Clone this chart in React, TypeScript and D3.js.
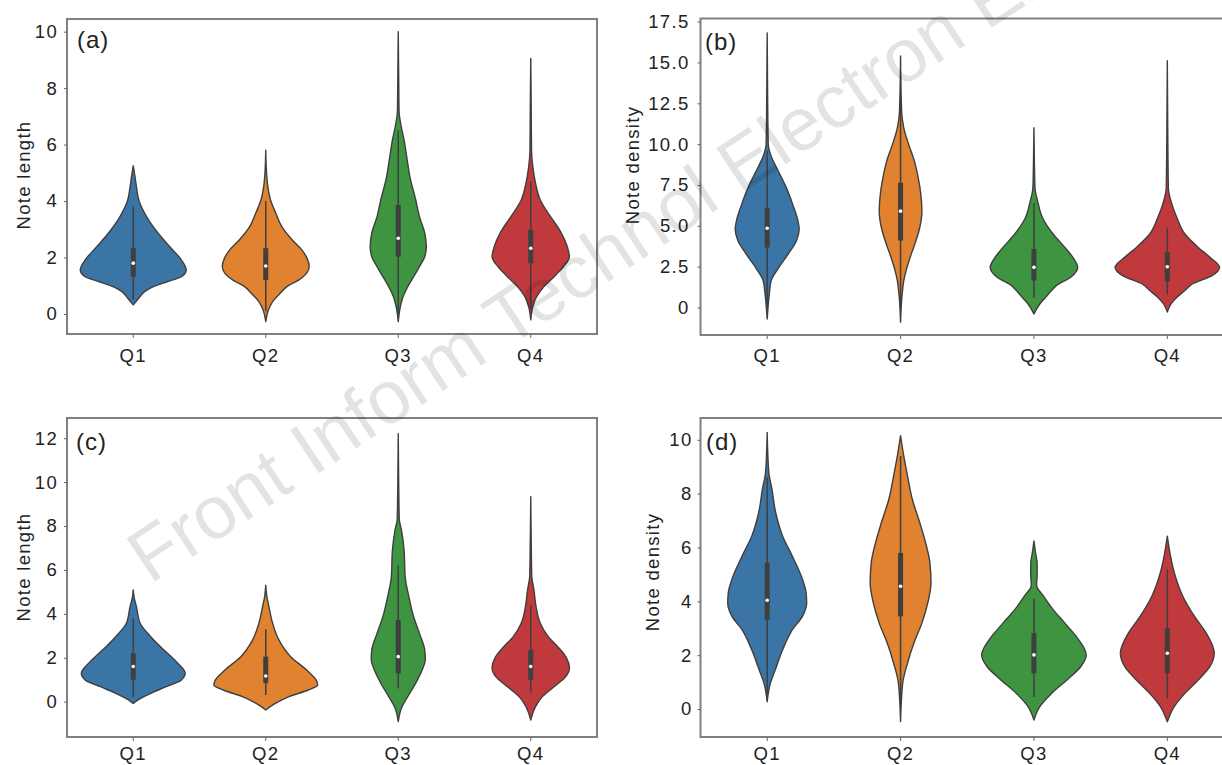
import React, { useEffect, useRef } from 'react';
import * as d3 from 'd3';

// Categories shared by every panel
const categories = ['Q1', 'Q2', 'Q3', 'Q4'];
const violinColors = ['#3a75a5', '#e0822f', '#3e9440', '#c0393c'];

// Violin outlines: [value, relative half width], bottom to top
const profilesA = [
  [[0.32, 0], [0.55, 0.1], [0.8, 0.22], [0.95, 0.36], [1.15, 0.65], [1.32, 0.91], [1.56, 1.0], [1.91, 0.91], [2.38, 0.69], [2.86, 0.47], [3.45, 0.25], [4.0, 0.11], [4.5, 0.06], [4.9, 0.03], [5.25, 0]],
  [[-0.27, 0], [0.14, 0.05], [0.44, 0.13], [0.73, 0.27], [0.97, 0.4], [1.2, 0.62], [1.44, 0.77], [1.68, 0.82], [1.97, 0.78], [2.27, 0.68], [2.62, 0.5], [3.1, 0.3], [3.57, 0.19], [4.04, 0.09], [4.5, 0.04], [5.0, 0.015], [5.8, 0]],
  [[-0.27, 0], [0.26, 0.04], [0.61, 0.09], [0.97, 0.18], [1.32, 0.29], [1.68, 0.4], [2.03, 0.5], [2.38, 0.53], [2.86, 0.5], [3.45, 0.4], [4.04, 0.33], [4.86, 0.22], [5.57, 0.16], [6.16, 0.11], [6.6, 0.06], [7.2, 0.015], [8.5, 0.008], [10.0, 0]],
  [[-0.21, 0], [0.26, 0.04], [0.61, 0.11], [0.97, 0.25], [1.32, 0.44], [1.68, 0.62], [2.03, 0.73], [2.38, 0.69], [2.86, 0.58], [3.27, 0.44], [3.57, 0.33], [4.04, 0.18], [4.63, 0.09], [5.2, 0.04], [5.8, 0.015], [7.5, 0.008], [9.05, 0]],
];
const profilesB = [
  [[-0.7, 0], [0.84, 0.04], [1.65, 0.075], [2.46, 0.22], [3.3, 0.4], [4.1, 0.55], [4.8, 0.6], [5.4, 0.57], [6.3, 0.48], [7.4, 0.35], [8.4, 0.2], [9.3, 0.07], [10.0, 0.02], [13.0, 0.008], [16.8, 0]],
  [[-0.9, 0], [0.83, 0.03], [1.65, 0.06], [2.46, 0.12], [3.27, 0.2], [4.1, 0.29], [4.9, 0.36], [5.9, 0.4], [6.93, 0.38], [7.95, 0.33], [8.96, 0.26], [10.0, 0.15], [11.0, 0.06], [12.0, 0.02], [15.4, 0]],
  [[-0.39, 0], [0.22, 0.11], [0.63, 0.22], [1.04, 0.33], [1.34, 0.42], [1.85, 0.69], [2.46, 0.82], [3.07, 0.73], [3.68, 0.58], [4.5, 0.36], [5.5, 0.16], [6.5, 0.07], [7.3, 0.02], [9.0, 0.008], [11.0, 0]],
  [[-0.28, 0], [0.22, 0.07], [0.63, 0.18], [1.04, 0.33], [1.44, 0.47], [1.95, 0.84], [2.46, 0.98], [3.07, 0.8], [3.68, 0.58], [4.5, 0.33], [5.5, 0.18], [6.5, 0.07], [7.3, 0.02], [11.0, 0.008], [15.1, 0]],
];
const profilesC = [
  [[-0.08, 0], [0.08, 0.09], [0.38, 0.33], [0.68, 0.62], [0.99, 0.91], [1.29, 0.98], [1.75, 0.84], [2.35, 0.58], [2.96, 0.33], [3.57, 0.13], [4.33, 0.06], [4.7, 0.02], [5.09, 0]],
  [[-0.38, 0], [-0.08, 0.18], [0.23, 0.44], [0.53, 0.8], [0.76, 0.98], [0.99, 0.95], [1.44, 0.77], [2.05, 0.47], [2.8, 0.25], [3.57, 0.13], [4.33, 0.06], [4.8, 0.02], [5.3, 0]],
  [[-0.91, 0], [-0.23, 0.07], [0.23, 0.18], [0.84, 0.33], [1.44, 0.45], [1.9, 0.51], [2.35, 0.5], [3.11, 0.4], [3.87, 0.29], [4.78, 0.2], [5.7, 0.13], [6.9, 0.11], [7.82, 0.06], [8.3, 0.02], [10.0, 0.008], [12.2, 0]],
  [[-0.84, 0], [-0.23, 0.09], [0.23, 0.22], [0.68, 0.44], [1.14, 0.66], [1.52, 0.73], [2.05, 0.66], [2.5, 0.51], [2.96, 0.33], [3.57, 0.18], [4.33, 0.1], [5.09, 0.06], [5.7, 0.02], [7.5, 0.008], [9.34, 0]],
];
const profilesD = [
  [[0.27, 0], [0.96, 0.06], [1.45, 0.15], [2.2, 0.29], [2.94, 0.47], [3.44, 0.66], [3.94, 0.74], [4.31, 0.73], [4.93, 0.64], [5.68, 0.47], [6.42, 0.29], [7.29, 0.16], [8.16, 0.09], [8.8, 0.03], [10.27, 0]],
  [[-0.47, 0], [0.96, 0.04], [1.7, 0.13], [2.45, 0.25], [3.19, 0.4], [3.94, 0.51], [4.68, 0.57], [5.43, 0.55], [6.17, 0.47], [6.92, 0.36], [7.79, 0.22], [8.66, 0.13], [9.4, 0.06], [10.15, 0]],
  [[-0.41, 0], [0.09, 0.11], [0.58, 0.33], [1.08, 0.62], [1.58, 0.88], [2.01, 0.98], [2.57, 0.84], [3.19, 0.58], [3.69, 0.36], [4.19, 0.18], [4.6, 0.05], [5.0, 0.06], [5.4, 0.06], [5.8, 0.03], [6.24, 0]],
  [[-0.47, 0], [0.09, 0.13], [0.58, 0.33], [1.08, 0.58], [1.58, 0.8], [2.07, 0.88], [2.82, 0.73], [3.44, 0.51], [4.19, 0.29], [4.93, 0.15], [5.68, 0.06], [6.42, 0]],
];

// Inner box per category: [q1, median, q3, whisker low, whisker high]
const boxesA = [[1.32, 1.8, 2.33, 0.5, 3.8], [1.2, 1.7, 2.33, 0.1, 4.0], [2.03, 2.68, 3.86, 0.0, 6.5], [1.8, 2.33, 2.98, 0.2, 4.7]];
const boxesB = [[3.68, 4.85, 6.1, 0.0, 9.6], [4.1, 5.9, 7.64, 0.0, 12.8], [1.65, 2.46, 3.58, 0.6, 6.4], [1.6, 2.5, 3.4, 0.8, 4.9]];
const boxesC = [[1.0, 1.6, 2.2, 0.2, 3.8], [0.84, 1.17, 2.05, 0.3, 3.3], [1.29, 2.05, 3.72, 0.6, 6.2], [0.99, 1.6, 2.35, 0.4, 4.4]];
const boxesD = [[3.32, 4.04, 5.43, 0.3, 8.6], [3.44, 4.56, 5.8, 0.2, 9.4], [1.33, 2.01, 2.82, 0.45, 4.1], [1.33, 2.07, 3.0, 0.4, 5.2]];

// Tick values and axis limits
const ticksA = [0, 2, 4, 6, 8, 10];
const ticksB = [0, 2.5, 5, 7.5, 10, 12.5, 15, 17.5];
const ticksC = [0, 2, 4, 6, 8, 10, 12];
const ticksD = [0, 2, 4, 6, 8, 10];
const limitsA = [-0.71, 10.45];
const limitsB = [-1.68, 17.69];
const limitsC = [-1.61, 12.92];
const limitsD = [-1.04, 10.81];

const intFormat = (d) => String(d);
const oneDecimal = (d) => (d === 0 ? '0' : d3.format('.1f')(d));

// Layout of the four panels
const panels = [
  { label: '(a)', title: 'Note length', profiles: profilesA, boxes: boxesA, ticks: ticksA, limits: limitsA, format: intFormat,
    left: 67, right: 597, top: 19, bottom: 334, titleX: 23, titleY: 175, labelX: 77, labelY: 48, yPad: 6, xPad: 11 },
  { label: '(b)', title: 'Note density', profiles: profilesB, boxes: boxesB, ticks: ticksB, limits: limitsB, format: oneDecimal,
    left: 700.5, right: 1234, top: 18.5, bottom: 335, titleX: 632, titleY: 165, labelX: 705, labelY: 50, yPad: 8, xPad: 10 },
  { label: '(c)', title: 'Note length', profiles: profilesC, boxes: boxesC, ticks: ticksC, limits: limitsC, format: intFormat,
    left: 67, right: 597, top: 418, bottom: 737, titleX: 23, titleY: 567, labelX: 76, labelY: 450, yPad: 6, xPad: 6 },
  { label: '(d)', title: 'Note density', profiles: profilesD, boxes: boxesD, ticks: ticksD, limits: limitsD, format: intFormat,
    left: 700.5, right: 1234, top: 418, bottom: 737, titleX: 652, titleY: 572, labelX: 706, labelY: 450, yPad: 5, xPad: 6 },
];

const FONT = '"Liberation Sans", Arial, sans-serif';
const EDGE = '#3f3f3f';
const INK = '#222222';

const drawPanel = (svg, p) => {
  const g = svg.append('g');

  const x = d3.scaleBand().domain(categories).range([p.left, p.right]);
  const y = d3.scaleLinear().domain(p.limits).range([p.bottom, p.top]);
  const halfWidth = d3.scaleLinear().domain([0, 1]).range([0, x.bandwidth() * 0.4]);

  // Frame around the plotting area
  g.append('rect')
    .attr('x', p.left)
    .attr('y', p.top)
    .attr('width', p.right - p.left)
    .attr('height', p.bottom - p.top)
    .attr('fill', 'none')
    .attr('stroke', '#808080')
    .attr('stroke-width', 2);

  // Violins with their inner boxes
  p.profiles.forEach((profile, i) => {
    const cx = x(categories[i]) + x.bandwidth() / 2;
    const area = d3.area()
      .y(d => y(d[0]))
      .x0(d => cx - halfWidth(d[1]))
      .x1(d => cx + halfWidth(d[1]))
      .curve(d3.curveMonotoneY);

    g.append('path')
      .attr('d', area(profile))
      .attr('fill', violinColors[i])
      .attr('stroke', EDGE)
      .attr('stroke-width', 1.4)
      .attr('stroke-linejoin', 'round');

    const [q1, median, q3, low, high] = p.boxes[i];
    g.append('line')
      .attr('x1', cx).attr('x2', cx)
      .attr('y1', y(low)).attr('y2', y(high))
      .attr('stroke', EDGE)
      .attr('stroke-width', 1.5);
    g.append('line')
      .attr('x1', cx).attr('x2', cx)
      .attr('y1', y(q1)).attr('y2', y(q3))
      .attr('stroke', EDGE)
      .attr('stroke-width', 5);
    g.append('circle')
      .attr('cx', cx)
      .attr('cy', y(median))
      .attr('r', 1.8)
      .attr('fill', '#ffffff');
  });

  // Axes: short ticks, no domain line (the frame draws it)
  const yAxis = g.append('g')
    .attr('transform', `translate(${p.left},0)`)
    .call(d3.axisLeft(y).tickValues(p.ticks).tickSize(3).tickPadding(p.yPad).tickFormat(p.format));
  const xAxis = g.append('g')
    .attr('transform', `translate(0,${p.bottom})`)
    .call(d3.axisBottom(x).tickSize(4).tickPadding(p.xPad));

  [yAxis, xAxis].forEach(axis => {
    axis.select('.domain').remove();
    axis.selectAll('line').attr('stroke', '#666').attr('stroke-width', 1);
    axis.selectAll('text')
      .attr('font-family', FONT)
      .attr('font-size', 18.5)
      .attr('letter-spacing', 1.3)
      .attr('fill', INK);
  });

  // Axis title
  g.append('text')
    .attr('transform', `translate(${p.titleX},${p.titleY}) rotate(-90)`)
    .attr('text-anchor', 'middle')
    .attr('dominant-baseline', 'central')
    .attr('font-family', FONT)
    .attr('font-size', 18.5)
    .attr('letter-spacing', 1.3)
    .attr('fill', INK)
    .text(p.title);

  // Panel letter
  g.append('text')
    .attr('x', p.labelX)
    .attr('y', p.labelY)
    .attr('font-family', FONT)
    .attr('font-size', 24)
    .attr('letter-spacing', 1)
    .attr('fill', INK)
    .text(p.label);
};

const App = () => {
  const svgRef = useRef(null);

  useEffect(() => {
    const svg = d3.select(svgRef.current);
    svg.selectAll('*').remove();

    panels.forEach(p => drawPanel(svg, p));

    // Journal watermark laid across the figure
    svg.append('text')
      .attr('transform', 'translate(150,585) rotate(-33.5)')
      .attr('font-family', FONT)
      .attr('font-size', 75)
      .attr('fill', '#000')
      .attr('fill-opacity', 0.11)
      .text('Front Inform Technol Electron Eng');
  }, []);

  return (
    <svg
      ref={svgRef}
      width={1222}
      height={765}
      style={{ position: 'absolute', left: 0, top: 0, background: '#ffffff' }}
    />
  );
};

export default App;
